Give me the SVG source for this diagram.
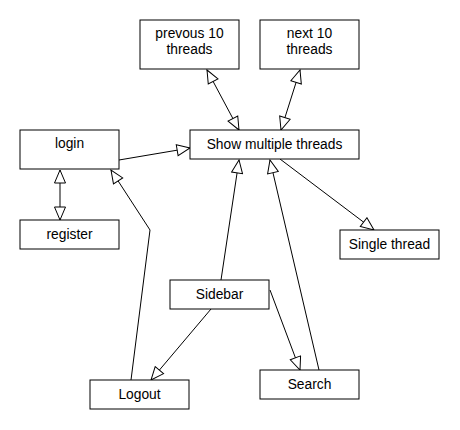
<svg xmlns="http://www.w3.org/2000/svg" width="460" height="430" viewBox="0 0 460 430">
<style>
rect{fill:#fff;stroke:#000;stroke-width:1}
text{font-family:"Liberation Sans",Arial,sans-serif;font-size:13.8px;fill:#000;text-anchor:middle}
.c{fill:none;stroke:#000;stroke-width:1}
</style>
<defs>
<marker id="tri" markerUnits="userSpaceOnUse" markerWidth="15" markerHeight="13" refX="14" refY="6.5" orient="auto-start-reverse" viewBox="0 0 15 13">
<path d="M1,1 L14,6.5 L1,12 Z" fill="#fff" stroke="#000" stroke-width="1"/>
</marker>
</defs>
<rect x="0" y="0" width="460" height="430" style="stroke:none"/>
<g id="connectors">
<line class="c" x1="207" y1="70" x2="239" y2="130" marker-start="url(#tri)" marker-end="url(#tri)"/>
<line class="c" x1="300" y1="70" x2="281" y2="130" marker-start="url(#tri)" marker-end="url(#tri)"/>
<line class="c" x1="119" y1="160" x2="190" y2="148" marker-end="url(#tri)"/>
<line class="c" x1="60" y1="170" x2="60" y2="220" marker-start="url(#tri)" marker-end="url(#tri)"/>
<line class="c" x1="280" y1="159" x2="374" y2="230" marker-end="url(#tri)"/>
<line class="c" x1="221" y1="280" x2="239" y2="160" marker-end="url(#tri)"/>
<line class="c" x1="319" y1="370" x2="270" y2="160" marker-end="url(#tri)"/>
<line class="c" x1="270" y1="290" x2="300" y2="370" marker-end="url(#tri)"/>
<line class="c" x1="211" y1="309" x2="151" y2="380" marker-end="url(#tri)"/>
<polyline class="c" points="131,380 150,230 111,170" marker-end="url(#tri)"/>
</g>
<g id="prev"><rect x="140" y="20" width="99" height="49"/><text x="189.5" y="38">prevous 10</text><text x="189.5" y="54">threads</text></g>
<g id="next"><rect x="260" y="20" width="99" height="49"/><text x="309.5" y="38">next 10</text><text x="309.5" y="54">threads</text></g>
<g id="login"><rect x="20" y="130" width="99" height="39"/><text x="69.5" y="148">login</text></g>
<g id="show"><rect x="190" y="130" width="169" height="29"/><text x="274.5" y="148.5">Show multiple threads</text></g>
<g id="register"><rect x="20" y="220" width="99" height="29"/><text x="69.5" y="239">register</text></g>
<g id="single"><rect x="340" y="230" width="99" height="29"/><text x="389.5" y="248.5">Single thread</text></g>
<g id="sidebar"><rect x="170" y="280" width="99" height="29"/><text x="219.5" y="298.5">Sidebar</text></g>
<g id="search"><rect x="260" y="370" width="99" height="29"/><text x="309.5" y="388.5">Search</text></g>
<g id="logout"><rect x="90" y="380" width="99" height="29"/><text x="139.5" y="398.5">Logout</text></g>
</svg>
